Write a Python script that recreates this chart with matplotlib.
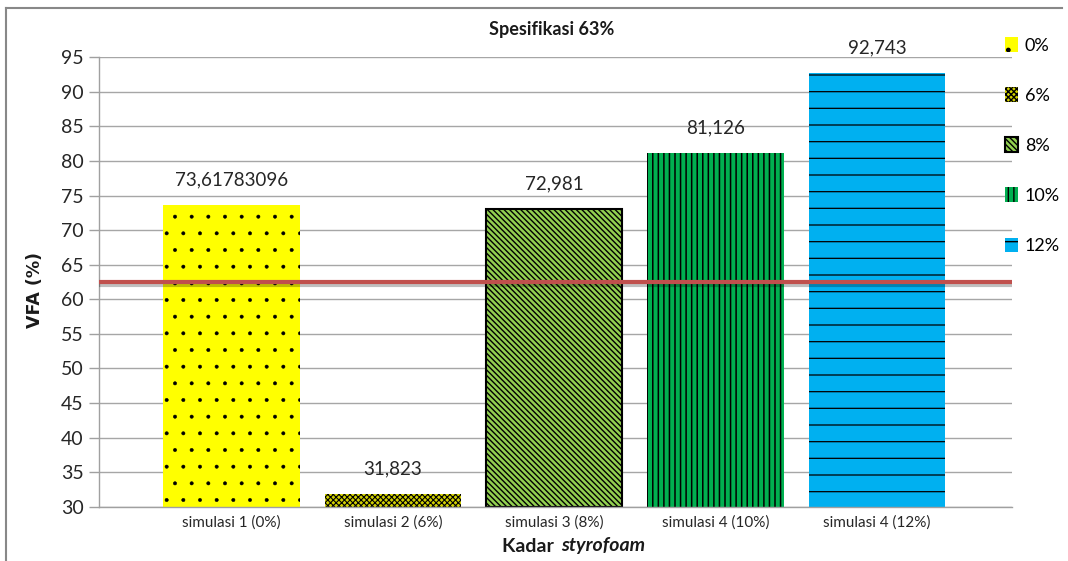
import matplotlib
matplotlib.use("Agg")
import matplotlib.pyplot as plt
import matplotlib.patheffects as pe
from matplotlib.lines import Line2D

categories = ["simulasi 1 (0%)", "simulasi 2 (6%)", "simulasi 3 (8%)",
              "simulasi 4 (10%)", "simulasi 4 (12%)"]
values = [73.61783096, 31.823, 72.981, 81.126, 92.743]
legend_labels = ["0%", "6%", "8%", "10%", "12%"]
spec_value = 62.5
yticks = list(range(30, 96, 5))

facecolors = ["#FFFF00", "#D2D200", "#92D050", "#00B050", "#00B0F0"]
hatches = [".", "xxxxxx", "\\\\\\\\\\\\", "|||", "-"]
hatch_lws = [0.35, 0.8, 1.0, 1.1, 0.9]
linewidths = [0, 0, 1.5, 0, 0]

plt.rcParams['font.family'] = ['Lato', 'DejaVu Sans']

fig = plt.figure(figsize=(10.68, 5.61), dpi=100)
ax = fig.add_axes([99/1068, 54.3/561, 913/1068, 449.5/561])

x = list(range(len(categories)))
for i in x:
    plt.rcParams['hatch.linewidth'] = hatch_lws[i]
    b = ax.bar(i, values[i] - 30, bottom=30, width=0.845, color=facecolors[i],
               edgecolor="black", linewidth=linewidths[i], hatch=hatches[i],
               label=legend_labels[i], zorder=2)
    for p in b.patches:
        if hasattr(p, "set_hatch_linewidth"):
            p.set_hatch_linewidth(hatch_lws[i])
    ax.annotate(str(values[i]).replace(".", ","), (i, values[i]),
                xytext=(0, 12), textcoords="offset points", ha="center",
                va="bottom", fontsize=13.5, color="#262626", zorder=5)
plt.rcParams['hatch.linewidth'] = 1.0

ax.axhline(spec_value, color="#C0504D", lw=3, zorder=4,
           path_effects=[pe.SimpleLineShadow(offset=(0, -2.5), alpha=0.25),
                         pe.Normal()])

ax.set_xlim(-0.821, 4.836)
ax.set_ylim(30, 95)
ax.set_yticks(yticks)
ax.set_yticklabels([str(t) for t in yticks], fontsize=14, color="#262626")
ax.set_xticks(x)
ax.set_xticklabels(categories, fontsize=11, color="#262626")
ax.tick_params(axis="x", length=0, pad=6)
ax.tick_params(axis="y", length=7, color="#A0A0A0", width=1, pad=4)
ax.grid(axis="y", color="#A6A6A6", lw=1, zorder=0)
ax.set_axisbelow(True)
for s in ["top", "right"]:
    ax.spines[s].set_visible(False)
for s in ["left", "bottom"]:
    ax.spines[s].set_color("#A0A0A0")
    ax.spines[s].set_linewidth(1)

fig.text(35/1068, 1 - 290/561, "VFA (%)", rotation=90, fontsize=12.5,
         fontweight="bold", family="DejaVu Sans", ha="center", va="center",
         color="#1a1a1a")
fig.text(552/1068, 1 - 30/561, "Spesifikasi 63%", fontsize=13,
         fontweight="bold", ha="center", va="center", color="#1a1a1a")
fig.text(559/1068, 1 - 546/561, "Kadar ", fontsize=14, fontweight="bold",
         ha="right", va="center", color="#1a1a1a")
fig.text(561/1068, 1 - 546/561, "styrofoam", fontsize=14, fontweight="bold",
         style="italic", ha="left", va="center", color="#1a1a1a")

fig.legend(loc="upper left", bbox_to_anchor=(1005/1068, 1 - 37/561),
           frameon=False, fontsize=13, labelspacing=1.85, handlelength=0.7,
           handleheight=0.9, handletextpad=0.4, borderpad=0, borderaxespad=0)

fig.add_artist(Line2D([6/1068, 6/1068], [0, 1 - 8/561], color="#888888",
                      lw=1.5, transform=fig.transFigure))
fig.add_artist(Line2D([6/1068, 1062/1068], [1 - 8/561, 1 - 8/561],
                      color="#888888", lw=1.5, transform=fig.transFigure))

fig.savefig("out.png", dpi=100)
